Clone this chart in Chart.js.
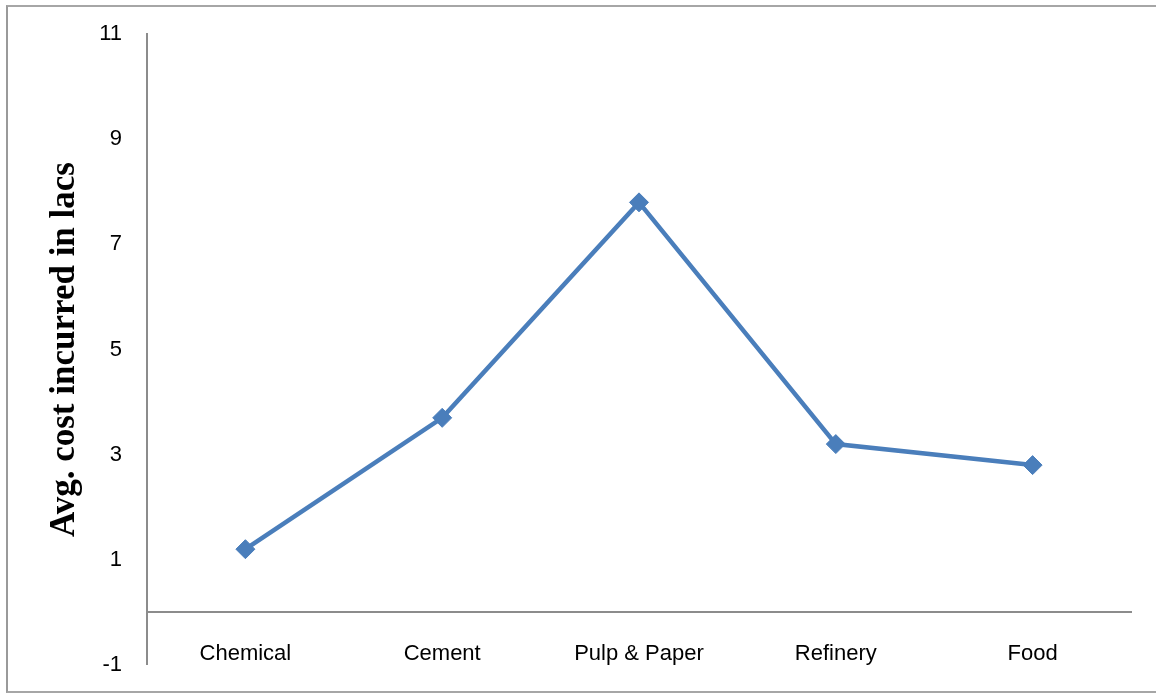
<!DOCTYPE html>
<html>
<head>
<meta charset="utf-8">
<script src="https://cdn.jsdelivr.net/npm/chart.js@4/dist/chart.umd.min.js"></script>
<style>
  html, body { margin: 0; padding: 0; background: #fff; overflow: hidden; }
  #frame {
    position: absolute; left: 6px; top: 5px; width: 1160px; height: 688px;
    border-left: 2px solid #9a9a9a; border-top: 2px solid #a6a6a6; border-bottom: 2px solid #a6a6a6;
    box-sizing: border-box;
  }
  #wrap { position: absolute; left: 0; top: -4px; width: 1156px; height: 707px; }
</style>
</head>
<body>
<div id="frame"></div>
<div id="wrap"><canvas id="c" width="1156" height="707"></canvas></div>
<script>
// Average cost per industry sector (in lacs)
const industries = ['Chemical', 'Cement', 'Pulp & Paper', 'Refinery', 'Food'];
const avgCost = [1.2, 3.7, 7.8, 3.2, 2.8];
const yTicks = [-1, 1, 3, 5, 7, 9, 11];

const axisGray = '#8c8c8c';
const lineBlue = '#4a7ebb';

new Chart(document.getElementById('c'), {
  type: 'line',
  data: {
    labels: industries,
    datasets: [{
      data: avgCost,
      borderColor: lineBlue,
      backgroundColor: lineBlue,
      borderWidth: 4.5,
      pointStyle: 'rectRot',
      pointRadius: 9.5,
      pointBorderWidth: 1,
      pointBackgroundColor: lineBlue,
      pointBorderColor: lineBlue,
      tension: 0,
      fill: false
    }]
  },
  options: {
    responsive: false,
    animation: false,
    devicePixelRatio: 1,
    layout: { autoPadding: false, padding: { left: 0, top: 33, right: 25, bottom: 28 } },
    plugins: { legend: { display: false }, tooltip: { enabled: false } },
    scales: {
      x: {
        type: 'category',
        position: { y: 0 },        // category axis crosses at zero
        offset: true,
        grid: { display: false, drawTicks: false },
        border: { display: true, color: axisGray, width: 2 },
        ticks: {
          padding: 28,
          color: '#000',
          maxRotation: 0,
          font: { family: 'Liberation Sans', size: 22 }
        }
      },
      y: {
        type: 'linear',
        min: -1,
        max: 11,
        afterFit: s => { s.width = 147; },
        afterBuildTicks: s => { s.ticks = yTicks.map(v => ({ value: v })); },
        grid: { display: false, drawTicks: false },
        border: { display: true, color: axisGray, width: 2 },
        ticks: {
          padding: 25,
          color: '#000',
          font: { family: 'Liberation Sans', size: 22 }
        },
        title: {
          display: true,
          text: 'Avg. cost incurred in lacs',
          color: '#000',
          padding: { top: 44, bottom: 0 },
          font: { family: 'Liberation Serif', size: 35, weight: 'bold' }
        }
      }
    }
  }
});
</script>
</body>
</html>
